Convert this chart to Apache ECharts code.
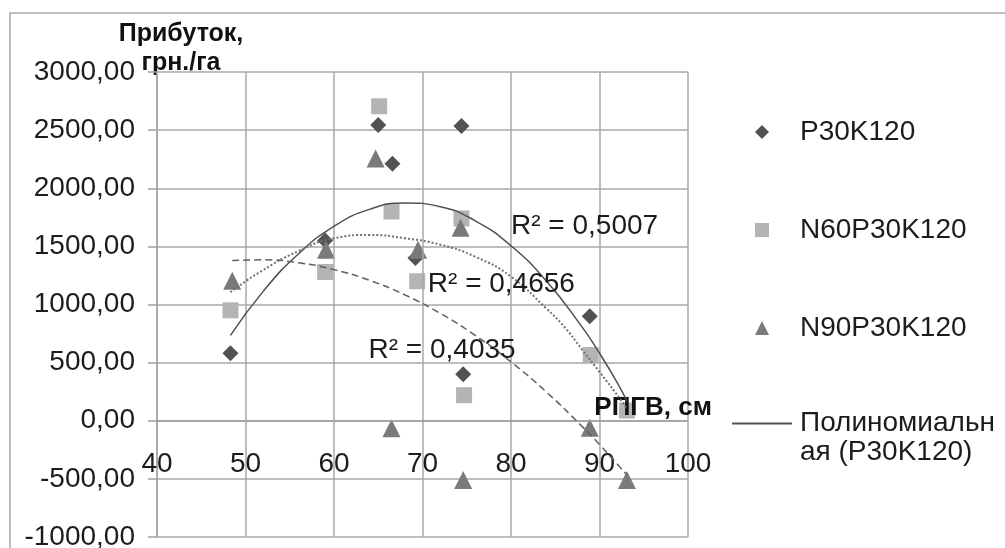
<!DOCTYPE html>
<html>
    <head>
        <meta charset="utf-8">
        <title>Прибуток</title>
        <script src="https://cdn.jsdelivr.net/npm/echarts@6/dist/echarts.min.js"></script>
        <style>
            html, body { margin: 0; padding: 0; background: #fff; }
            #chart1 { width: 1005px; height: 548px; }
        </style>
    </head>
    <body>
        <div id="chart1"></div>
        <script type="text/javascript">
            // точки (РПГВ, см ; прибуток, грн./га)
            var xP30 = [48.3, 59.0, 65.0, 66.6, 69.2, 74.4, 74.6, 88.9, 93.1];
            var yP30 = [580, 1550, 2545, 2210, 1400, 2535, 400, 900, 88];
            var xN60 = [48.3, 59.0, 65.1, 66.5, 69.4, 74.4, 74.7, 89.0, 93.1];
            var yN60 = [950, 1280, 2705, 1800, 1200, 1740, 220, 565, 88];
            var xN90 = [48.5, 59.1, 64.7, 66.5, 69.5, 74.3, 74.6, 88.9, 93.1];
            var yN90 = [1205, 1470, 2255, -65, 1470, 1660, -510, -60, -510];

            // линии тренда
            var trendXP30 = [48.3, 52, 56, 60, 64, 68, 72, 76, 80, 84, 88, 90, 92, 93.1];
            var trendYP30 = [734, 1113, 1437, 1673, 1818, 1874, 1841, 1718, 1505, 1202, 810, 581, 329, 170];
            var trendXN60 = [48.3, 51.6, 56, 60, 64, 68, 72, 76, 80, 84, 86, 88, 90, 92.5, 93.1];
            var trendYN60 = [1106, 1278, 1460, 1570, 1598, 1570, 1515, 1410, 1240, 965, 810, 615, 420, 170, 100];
            var trendXN90 = [48.5, 52, 56, 60, 64, 68, 72, 76, 80, 84, 88, 90, 92, 93.1];
            var trendYN90 = [1378, 1384, 1359, 1300, 1208, 1083, 924, 732, 506, 247, -46, -204, -372, -467];

            var seriesNames = ['P30K120', 'N60P30K120', 'N90P30K120'];
            var trendName = 'Полиномиальная (P30K120)';
            var r2Text = ['R² = 0,5007', 'R² = 0,4656', 'R² = 0,4035'];
            var r2At = [[80.0, 1675], [70.6, 1178], [63.9, 605]];

            var yTicks = { min: -1000, max: 3000, step: 500 };
            var xTicks = { min: 40, max: 100, step: 10 };

            function pairs(xs, ys) {
                return xs.map(function (x, i) { return [x, ys[i]]; });
            }

            var font = 'Liberation Sans, Arial, sans-serif';
            var textColor = '#1c1c1c';

            // сетка: верх 72, низ 537 -> ось X проходит через 0
            var gridTop = 72, gridBottom = 11, chartH = 548;
            var plotH = chartH - gridTop - gridBottom;
            var zeroShift = -plotH * (0 - yTicks.min) / (yTicks.max - yTicks.min);

            function r2Mark(i) {
                return {
                    silent: true,
                    symbol: 'rect',
                    symbolSize: 0,
                    label: {
                        show: true,
                        position: 'right',
                        distance: 0,
                        formatter: r2Text[i],
                        fontFamily: font,
                        fontSize: 28,
                        color: textColor
                    },
                    data: [{ coord: r2At[i] }]
                };
            }

            var myChart1 = echarts.init(document.getElementById('chart1'));

            myChart1.setOption({
                animation: false,
                backgroundColor: '#fff',
                graphic: [{
                    type: 'rect',
                    shape: { x: 10, y: 13, width: 1200, height: 700 },
                    style: { fill: 'none', stroke: '#a8a8a8', lineWidth: 1.5 },
                    silent: true,
                    z: -1
                }],
                grid: { left: 157, right: 317, top: gridTop, bottom: gridBottom, outerBoundsMode: 'none', containLabel: false },
                legend: [
                    {
                        data: seriesNames,
                        orient: 'vertical',
                        left: 755,
                        top: 117,
                        padding: 0,
                        itemWidth: 14,
                        itemHeight: 14,
                        itemGap: 68,
                        selectedMode: false,
                        textStyle: { fontFamily: font, fontSize: 28, lineHeight: 30, color: textColor, padding: [0, 0, 0, 26] }
                    },
                    {
                        data: [{ name: trendName, icon: 'rect' }],
                        orient: 'vertical',
                        left: 732,
                        top: 380,
                        padding: 0,
                        itemWidth: 60,
                        itemHeight: 2,
                        selectedMode: false,
                        formatter: function () { return '\nПолиномиальн\nая (P30K120)'; },
                        textStyle: { fontFamily: font, fontSize: 28, lineHeight: 29, color: textColor, padding: [0, 0, 0, 3] }
                    }
                ],
                xAxis: {
                    type: 'value',
                    min: xTicks.min,
                    max: xTicks.max,
                    interval: xTicks.step,
                    z: 3,
                    offset: zeroShift,
                    name: 'РПГВ, см',
                    nameLocation: 'end',
                    nameGap: 24,
                    nameMoveOverlap: false,
                    nameTextStyle: {
                        fontFamily: font, fontSize: 26, fontWeight: 'bold', color: '#111',
                        align: 'right', verticalAlign: 'bottom'
                    },
                    axisLine: { onZero: false, lineStyle: { color: '#a0a0a0', width: 1.5 } },
                    axisTick: { show: false },
                    axisLabel: { fontFamily: font, fontSize: 28, color: textColor, margin: 30 },
                    splitLine: { show: true, lineStyle: { color: '#a8a8a8', width: 1.5 } }
                },
                yAxis: {
                    type: 'value',
                    min: yTicks.min,
                    max: yTicks.max,
                    interval: yTicks.step,
                    name: 'Прибуток,\nгрн./га',
                    nameLocation: 'end',
                    nameGap: -6,
                    nameMoveOverlap: false,
                    nameTextStyle: {
                        fontFamily: font, fontSize: 25, fontWeight: 'bold', color: '#111',
                        align: 'center', verticalAlign: 'bottom', lineHeight: 29, padding: [0, 0, 0, 48]
                    },
                    axisLine: { show: true, lineStyle: { color: '#a0a0a0', width: 1.5 } },
                    axisTick: { show: true, length: 9, lineStyle: { color: '#a0a0a0', width: 1.5 } },
                    axisLabel: {
                        fontFamily: font, fontSize: 28, color: textColor, margin: 22,
                        formatter: function (v) { return v.toFixed(2).replace('.', ','); }
                    },
                    splitLine: { show: true, lineStyle: { color: '#a8a8a8', width: 1.5 } }
                },
                series: [
                    {
                        name: seriesNames[0], type: 'scatter', symbol: 'diamond', symbolSize: 16,
                        itemStyle: { color: '#525252', opacity: 1 },
                        data: pairs(xP30, yP30)
                    },
                    {
                        name: seriesNames[1], type: 'scatter', symbol: 'rect', symbolSize: 16,
                        itemStyle: { color: '#b4b4b4', opacity: 1 },
                        data: pairs(xN60, yN60)
                    },
                    {
                        name: seriesNames[2], type: 'scatter', symbol: 'triangle', symbolSize: 18,
                        itemStyle: { color: '#7a7a7a', opacity: 1 },
                        data: pairs(xN90, yN90)
                    },
                    {
                        name: trendName, type: 'line', smooth: true, symbol: 'none',
                        color: '#505050',
                        lineStyle: { color: '#505050', width: 1.5 },
                        data: pairs(trendXP30, trendYP30),
                        markPoint: r2Mark(0)
                    },
                    {
                        name: 'Полиномиальная (N60P30K120)', type: 'line', smooth: true, symbol: 'none',
                        lineStyle: { color: '#707070', width: 2, type: 'dotted' },
                        data: pairs(trendXN60, trendYN60),
                        markPoint: r2Mark(1)
                    },
                    {
                        name: 'Полиномиальная (N90P30K120)', type: 'line', smooth: true, symbol: 'none',
                        lineStyle: { color: '#606060', width: 1.5, type: [7, 4] },
                        data: pairs(trendXN90, trendYN90),
                        markPoint: r2Mark(2)
                    }
                ]
            });
        </script>
    </body>
</html>
